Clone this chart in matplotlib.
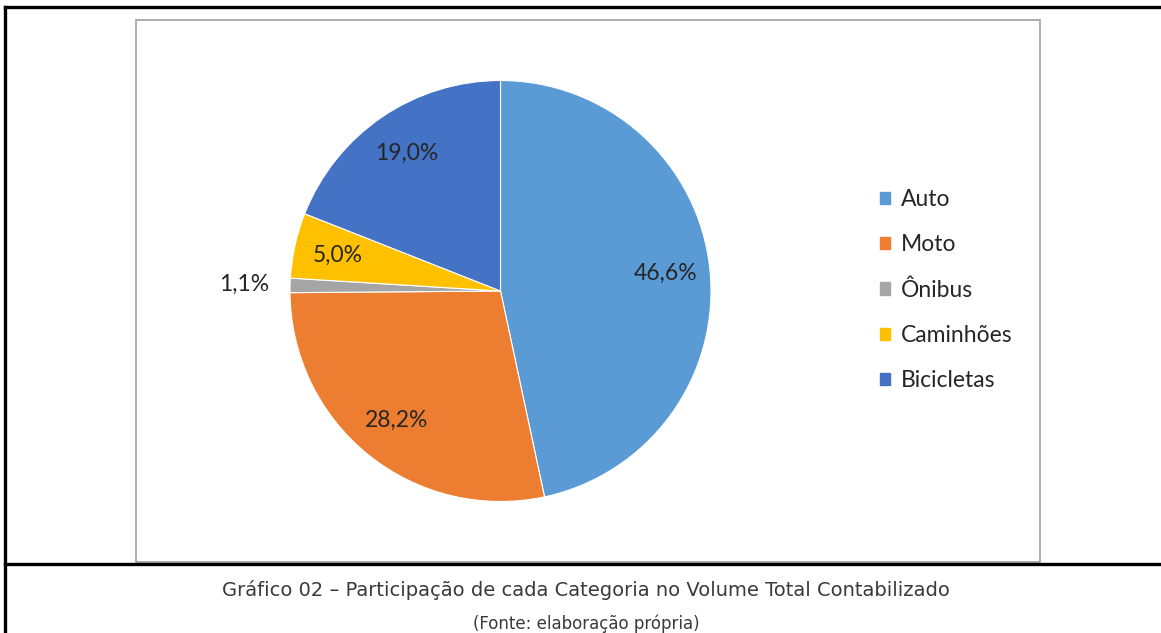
import numpy as np
import matplotlib
matplotlib.use('Agg')
from matplotlib import pyplot as plt
from matplotlib.lines import Line2D
from matplotlib.patches import Rectangle

categories = ['Auto', 'Moto', 'Ônibus', 'Caminhões', 'Bicicletas']
shares = [46.6, 28.2, 1.1, 5.0, 19.0]
colors = ['#5B9BD5', '#ED7D31', '#A5A5A5', '#FFC000', '#4472C4']
caption = 'Gráfico 02 – Participação de cada Categoria no Volume Total Contabilizado'
source = '(Fonte: elaboração própria)'

W, H = 1161, 633


def fx(px):
    return px / W


def fy(py):
    return 1 - py / H


def main():
    fig = plt.figure(figsize=(W / 100, H / 100), dpi=100)
    fig.patch.set_facecolor('white')

    # frame lines of the document table
    fig.add_artist(Line2D([fx(5), 1], [fy(6.5), fy(6.5)], color='black', lw=2.4))
    fig.add_artist(Line2D([fx(5), fx(5)], [fy(6.5), 0], color='black', lw=2.4))
    fig.add_artist(Line2D([fx(5), 1], [fy(564), fy(564)], color='black', lw=2.4))
    fig.add_artist(Rectangle((fx(135.5), fy(562)), fx(1039.5) - fx(135.5), fy(19.5) - fy(562),
                             fill=False, edgecolor='#A6A6A6', lw=1.3, transform=fig.transFigure))

    cx, cy, r = 500.5, 291, 210.5
    ax = fig.add_axes([fx(cx - r), fy(cy + r), 2 * r / W, 2 * r / H])
    wedges, texts, autotexts = ax.pie(
        shares, colors=colors, startangle=90, counterclock=False,
        autopct=lambda p: '{:.1f}%'.format(p).replace('.', ','),
        pctdistance=0.79, wedgeprops=dict(edgecolor='white', linewidth=0.8),
        textprops=dict(fontsize=16.5, family='Lato', color='#262626'))
    ax.set_xlim(-1, 1)
    ax.set_ylim(-1, 1)
    # small slice label goes outside
    w = wedges[2]
    ang = np.deg2rad((w.theta1 + w.theta2) / 2)
    autotexts[2].set_position((1.22 * np.cos(ang), 1.22 * np.sin(ang)))

    handles = [Rectangle((0, 0), 1, 1, color=c) for c in colors]
    fig.legend(handles, categories, loc='upper left', bbox_to_anchor=(fx(871), fy(180)),
               frameon=False, prop=dict(family='Lato', size=16.5), labelcolor='#262626',
               handlelength=0.45, handleheight=0.45, handletextpad=0.45,
               labelspacing=1.05, borderaxespad=0)

    fig.text(fx(586), fy(590), caption, ha='center', va='center', fontsize=14,
             family='DejaVu Sans', color='#3a3a3a')
    fig.text(fx(586), fy(624), source, ha='center', va='center', fontsize=12,
             family='DejaVu Sans', color='#3a3a3a')

    fig.savefig('out.png', dpi=100)


if __name__ == '__main__':
    main()
